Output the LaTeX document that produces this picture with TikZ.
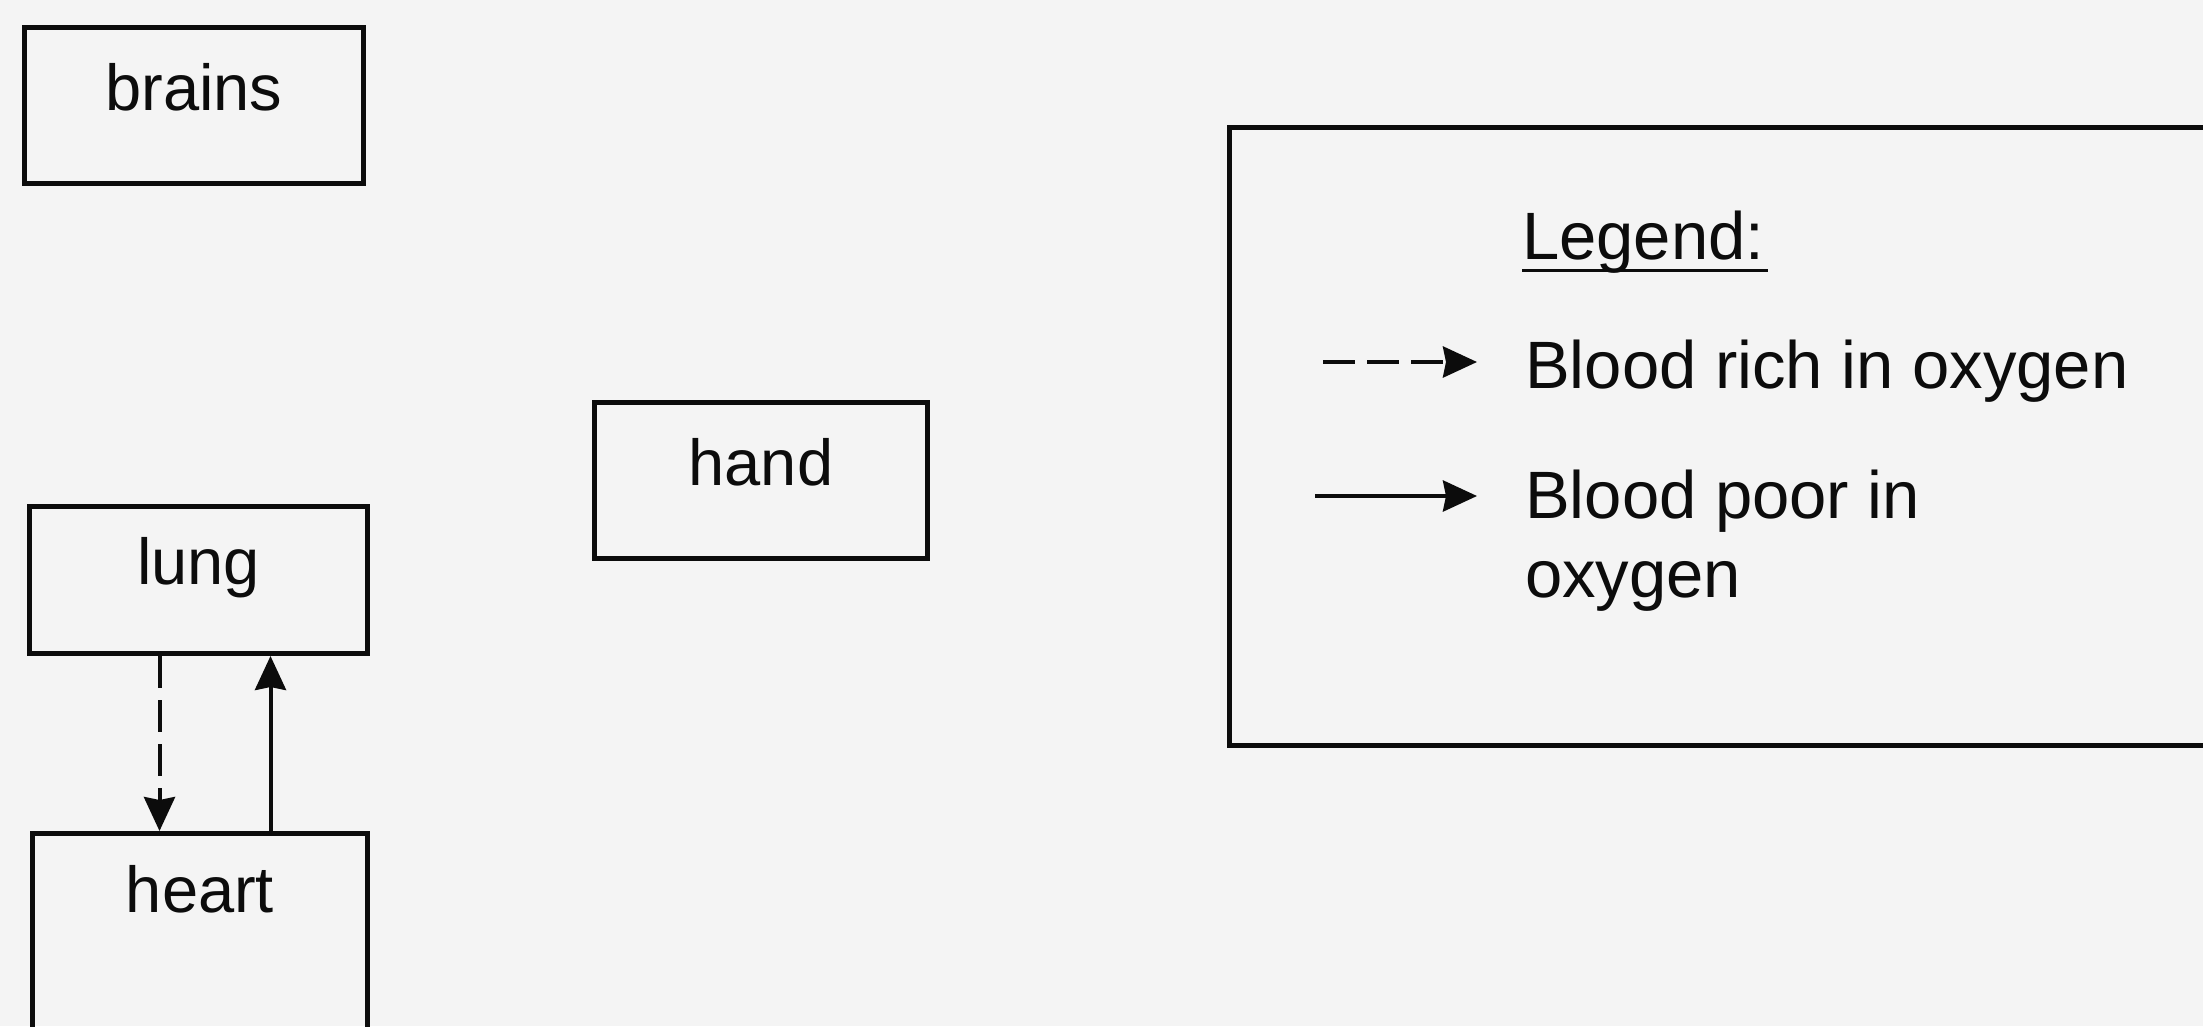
\documentclass[tikz,border=0pt]{standalone}
\usepackage{fontspec}
\setmainfont{Liberation Sans}
\usetikzlibrary{arrows.meta,calc}
\definecolor{bg}{RGB}{244,244,244}
\definecolor{ink}{RGB}{12,12,12}
\begin{document}
\begin{tikzpicture}[x=1pt,y=-1pt,
  organ/.style={draw=ink, line width=5pt, rectangle, inner sep=0pt, anchor=north west,
    font=\fontsize{65}{78}\selectfont, text=ink},
  flow/.style={draw=ink, line width=4pt, -{Stealth[length=34pt,width=31pt,inset=3pt]}},
  rich/.style={flow, dash pattern=on 32pt off 12pt},
  poor/.style={flow},
  legbox/.style={draw=ink, line width=4.5pt, rectangle, inner sep=0pt, anchor=north west},
  legtext/.style={inner sep=0pt, font=\fontsize{67}{79}\selectfont, text=ink, align=left}
]
\useasboundingbox (0,0) rectangle (2203,1026);
\fill[bg] (0,0) rectangle (2203,1026);
\begin{scope}
\clip (0,0) rectangle (2203,1026);
% organs
\node[organ, minimum width=339pt, minimum height=156pt, text height=83pt, text depth=73pt] (brains) at (22,25) {brains};
\node[organ, minimum width=338pt, minimum height=147pt, text height=78pt, text depth=69pt] (lung) at (27,504) {lung};
\node[organ, minimum width=333pt, minimum height=156pt, text height=83pt, text depth=73pt] (hand) at (592,400) {hand};
\node[organ, minimum width=335pt, minimum height=220pt, text height=79pt, text depth=141pt] (heart) at (30,831) {heart};
% connectors between lung and heart
\draw[rich] ([xshift=-39pt]lung.south) -- ([xshift=-39pt]lung.south |- heart.north);
\draw[poor] ([xshift=70.5pt]heart.north) -- ([xshift=70.5pt]heart.north |- lung.south);
% legend
\node[legbox, minimum width=1033pt, minimum height=618pt] (legend) at (1227,125) {};
\node[legtext, anchor=base west] (title) at (1522,259) {Legend:};
\draw[ink, line width=3pt] ([yshift=-11pt]title.base west) -- ([yshift=-11pt,xshift=3pt]title.base east);
\coordinate (richstart) at (1323,362);
\coordinate (richend) at (1477,362);
\draw[rich] (richstart) -- (richend);
\node[legtext, anchor=base west] (richtext) at (1525,388) {Blood rich in oxygen};
\coordinate (poorstart) at (1315,496);
\coordinate (poorend) at (1477,496);
\draw[poor] (poorstart) -- (poorend);
\node[legtext, anchor=north west] (poortext) at (1525,470) {Blood poor in\\oxygen};
\end{scope}
\end{tikzpicture}
\end{document}
